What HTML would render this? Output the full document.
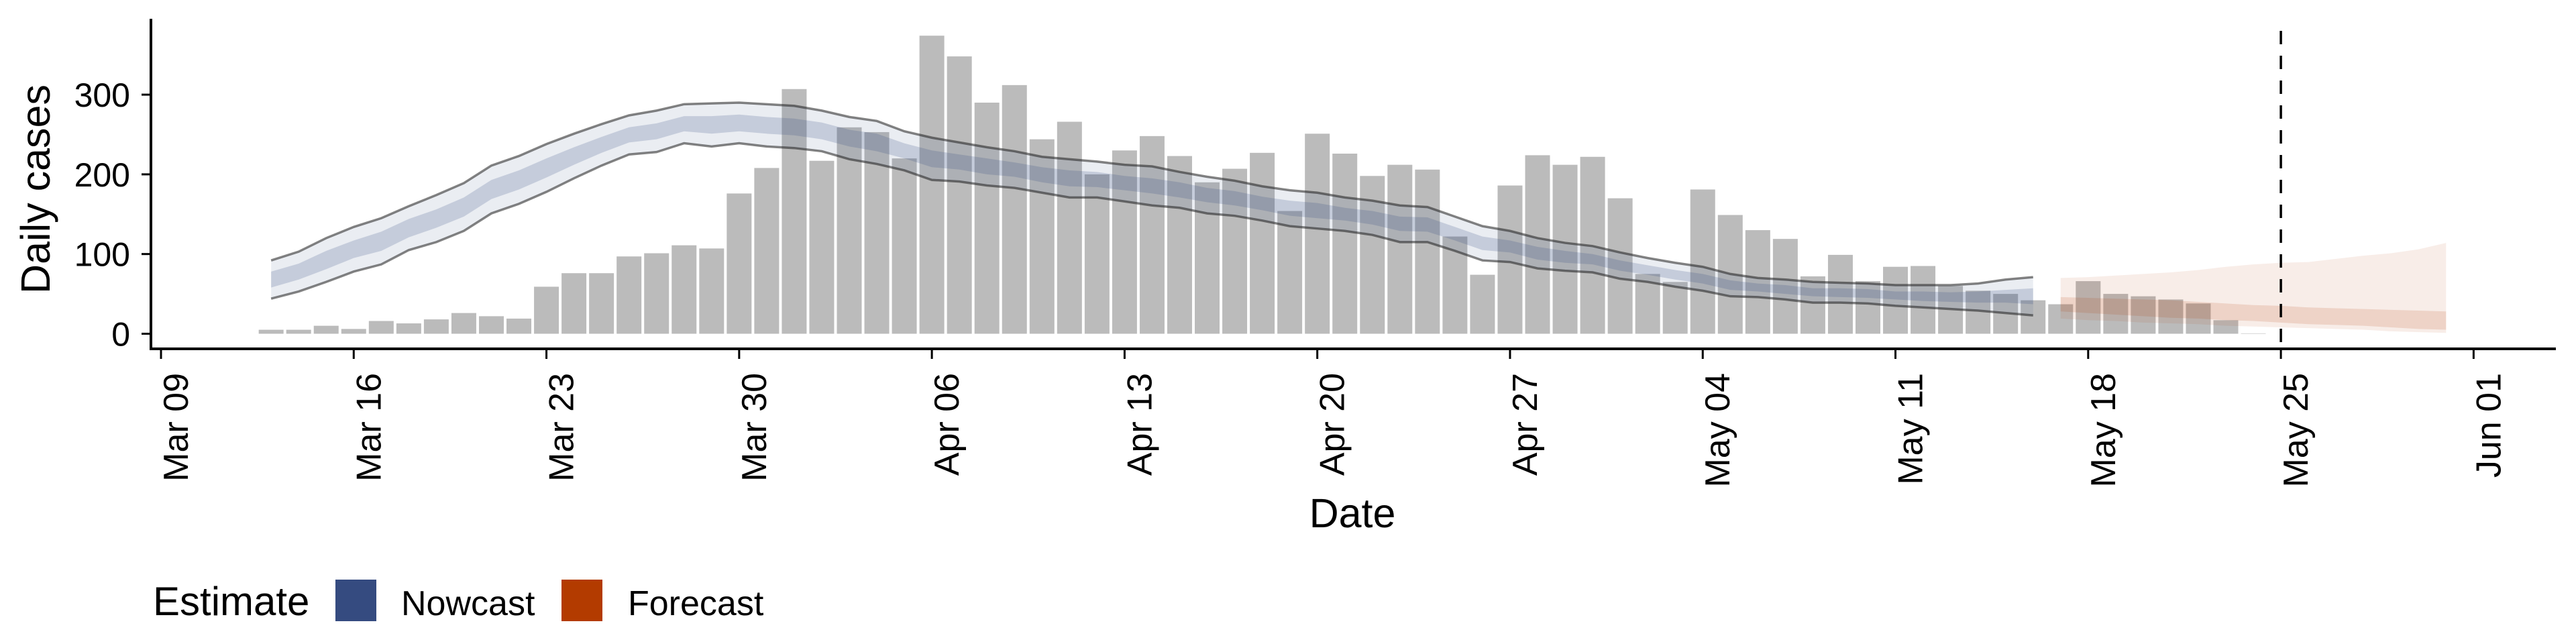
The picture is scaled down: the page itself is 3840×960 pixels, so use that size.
<!DOCTYPE html>
<html><head><meta charset="utf-8"><style>
html,body{margin:0;padding:0;background:#fff;}
svg{display:block;font-family:"Liberation Sans",sans-serif;}
</style></head><body>
<svg id="chart" width="3840" height="960" viewBox="0 0 3840 960" xmlns="http://www.w3.org/2000/svg">
<g id="bars"></g>
<g id="ribbons"></g>
<g id="axes"></g>
<text x="0" y="0" transform="translate(74,282) rotate(-90)" text-anchor="middle" font-size="61">Daily cases</text>
<text x="2016" y="786" text-anchor="middle" font-size="61">Date</text>
<g>
<text x="228" y="917" font-size="60">Estimate</text>
<rect x="500" y="864" width="61" height="62" fill="#354b80"/>
<text x="598" y="917" font-size="52">Nowcast</text>
<rect x="837" y="864" width="61" height="62" fill="#b33b00"/>
<text x="936" y="917" font-size="52">Forecast</text>
</g>
</svg>
<script>
// Data (day index = days since Mar 09)
const barStart = 4; // Mar 13
const cases = [5,5,10,6,16,13,18,26,22,19,59,76,76,97,101,111,107,176,208,307,217,259,253,220,374,348,290,312,244,266,200,230,248,223,190,207,227,154,251,226,198,212,206,122,74,186,224,212,222,170,75,65,181,149,130,119,72,99,66,84,85,60,54,50,42,37,66,50,47,43,38,17,0.5];
const nowStart = 4; // Mar 13
const nowUpper = [92,103,120,134,145,160,174,189,211,223,238,251,263,274,280,288,289,290,288,286,280,272,267,254,246,240,234,229,222,219,216,212,210,203,197,192,185,180,177,171,167,161,159,147,135,129,120,114,110,102,95,89,84,75,70,68,65,64,63,61,61,61,63,68,71];
const nowLower = [44,53,65,78,87,105,115,129,151,163,178,195,211,225,228,239,235,239,235,233,229,219,213,205,193,191,186,183,177,171,171,166,161,158,151,148,142,135,132,129,124,115,115,104,92,90,82,79,77,69,65,59,54,47,46,43,39,39,38,35,33,31,29,26,23];
const nowInUpper = [78,88,104,117,128,144,156,171,193,205,220,234,247,259,264,273,273,275,272,270,265,256,251,239,230,225,220,215,209,205,203,198,195,190,183,179,172,167,164,158,154,147,146,134,122,117,109,104,100,92,86,80,75,67,63,61,57,57,56,53,53,52,53,55,57];
const nowInLower = [58,68,81,95,104,121,133,147,169,181,196,212,227,240,244,254,251,254,251,249,244,235,229,220,209,206,200,197,190,185,184,180,176,171,165,161,155,148,145,142,137,129,128,117,105,102,93,89,87,79,74,68,63,55,53,50,47,46,45,43,41,40,39,39,37];
const foreStart = 69; // May 17
const foreUpper = [70,71,73,75,77,80,84,87,89,90,94,98,101,106,114];
const foreLower = [19,17,16,14,13,12,10,9,8,7,6,5,3,2,1];
const foreInUpper = [46,45,44,43,42,40,38,36,35,33,32,31,30,29,28];
const foreInLower = [28,26,24,22,20,19,17,16,14,12,11,10,8,6,5];
const xTickLabels = ["Mar 09","Mar 16","Mar 23","Mar 30","Apr 06","Apr 13","Apr 20","Apr 27","May 04","May 11","May 18","May 25","Jun 01"];
const yTicks = [0,100,200,300];
const vlineDay = 77; // May 25

const NS = "http://www.w3.org/2000/svg";
const X = d => 240 + d * 41.04;
const Y = v => 497.5 - v * 1.188;
function mk(tag, attrs, parent){const e=document.createElementNS(NS,tag);for(const k in attrs)e.setAttribute(k,attrs[k]);parent.appendChild(e);return e;}

const gb = document.getElementById('bars');
cases.forEach((v,i)=>{
  const d = barStart+i;
  const r = mk('rect',{x:X(d)-18.5,y:Y(v),width:37,height:Math.max(0,Y(0)-Y(v)),fill:'#bbbbbb'},gb);
  
  
});

const gr = document.getElementById('ribbons');
function band(start, up, lo, fill, name){
  let p = up.map((v,i)=>X(start+i)+','+Y(v));
  for(let i=lo.length-1;i>=0;i--) p.push(X(start+i)+','+Y(lo[i]));
  const e = mk('polygon',{points:p.join(' '),fill:fill},gr);
  
  
}
function line(start, arr, name){
  const e = mk('polyline',{points:arr.map((v,i)=>X(start+i)+','+Y(v)).join(' '),fill:'none',stroke:'rgba(30,30,30,0.55)','stroke-width':3.5},gr);
  
  
}
band(nowStart,nowUpper,nowLower,'rgba(52,74,128,0.1)','nowcast-outer-ribbon');
band(nowStart,nowInUpper,nowInLower,'rgba(52,74,128,0.2)','nowcast-inner-ribbon');
band(foreStart,foreUpper,foreLower,'rgba(179,59,0,0.09)','forecast-outer-ribbon');
band(foreStart,foreInUpper,foreInLower,'rgba(179,59,0,0.14)','forecast-inner-ribbon');
line(nowStart,nowUpper,'nowcast-upper-line');
line(nowStart,nowLower,'nowcast-lower-line');

const ga = document.getElementById('axes');
let e = mk('line',{x1:X(vlineDay),x2:X(vlineDay),y1:46,y2:520,stroke:'#000','stroke-width':3.5,'stroke-dasharray':'20 17'},ga);


e = mk('line',{x1:225,x2:225,y1:28,y2:522,stroke:'#000','stroke-width':4},ga);


e = mk('line',{x1:223,x2:3810,y1:520,y2:520,stroke:'#000','stroke-width':4},ga);


yTicks.forEach(v=>{
  const t = mk('line',{x1:211,x2:225,y1:Y(v),y2:Y(v),stroke:'#000','stroke-width':3},ga);
  
  
  const l = mk('text',{x:194,y:Y(v)+18,'text-anchor':'end','font-size':50},ga);
  l.textContent = v;
  
  
});
xTickLabels.forEach((s,i)=>{
  const x = X(i*7);
  const t = mk('line',{x1:x,x2:x,y1:520,y2:535,stroke:'#000','stroke-width':3},ga);
  
  
  const l = mk('text',{x:0,y:0,transform:`translate(${x+40},556) rotate(-90)`,'text-anchor':'end','font-size':52},ga);
  l.textContent = s;
  
  
});
</script>
</body></html>
